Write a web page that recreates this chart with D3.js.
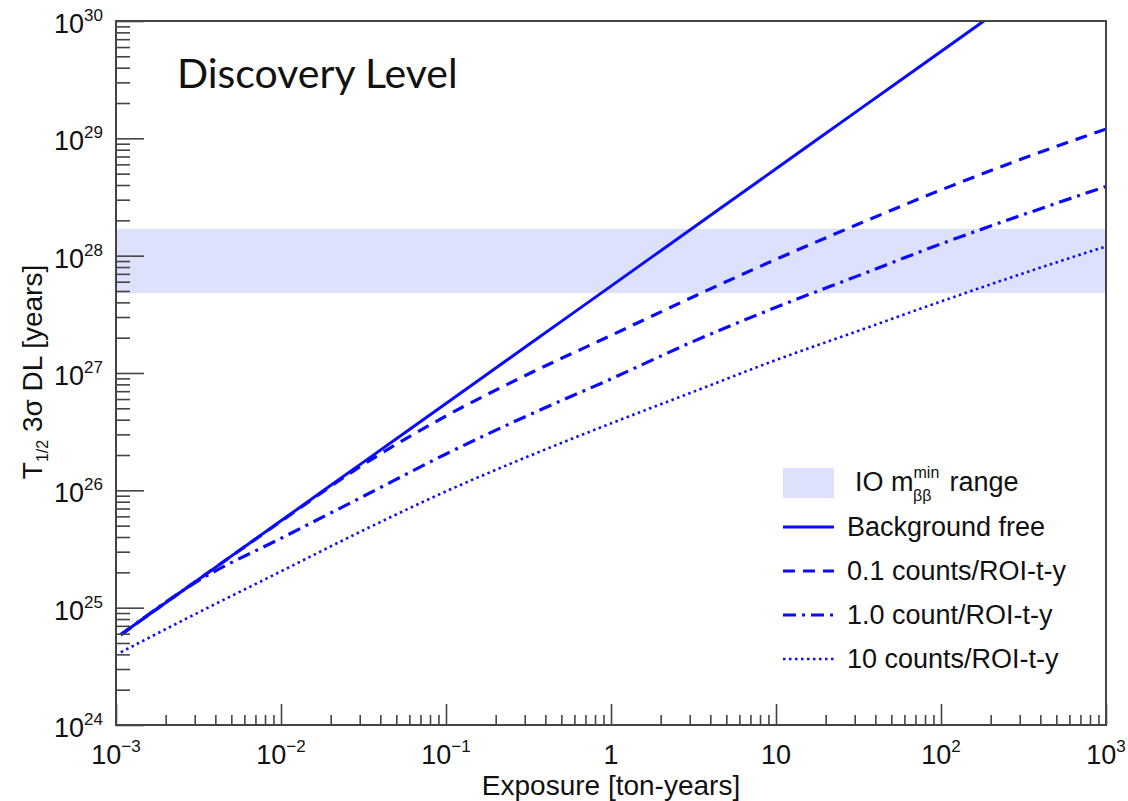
<!DOCTYPE html>
<html><head><meta charset="utf-8">
<script src="https://cdn.jsdelivr.net/npm/d3@7"></script>
<style>body{margin:0;background:#fff} text{font-family:"Liberation Sans",Arial,sans-serif;fill:#111}</style>
</head><body><svg id="c" width="1128" height="801"></svg>
<script>
// ---- data ----
const exposure = [0.00107, 0.00316, 0.01, 0.0316, 0.1, 0.316, 1, 3.16, 10, 31.6, 100, 316, 1000];
const bgFree   = [5.9e24, 1.74e25, 5.5e25, 1.74e26, 5.5e26, 1.74e27, 5.5e27, 1.74e28, 5.5e28, 1.74e29, 5.5e29, 1.74e30, 5.5e30];
const bkg01    = [5.9e24, 1.74e25, 5.45e25, 1.66e26, 4.3e26, 9.8e26, 2.09e27, 4.47e27, 9.3e27, 1.86e28, 3.63e28, 6.76e28, 1.2e29];
const bkg1     = [5.85e24, 1.7e25, 3.9e25, 8.9e25, 2.04e26, 4.37e26, 8.9e26, 1.86e27, 3.63e27, 6.76e27, 1.26e28, 2.24e28, 3.89e28];
const bkg10    = [4.17e24, 9.1e24, 2.04e25, 4.57e25, 9.8e25, 1.95e26, 3.72e26, 6.92e26, 1.29e27, 2.29e27, 4.07e27, 7.08e27, 1.2e28];
const ioBand   = [4.8e27, 1.69e28];
const seriesNames = ["Background free", "0.1 counts/ROI-t-y", "1.0 count/ROI-t-y", "10 counts/ROI-t-y"];
const xTickVals = [1e-3, 1e-2, 1e-1, 1, 10, 1e2, 1e3];
const xTickBase = ["10", "10", "10", "1", "10", "10", "10"];
const xTickExp  = ["−3", "−2", "−1", "", "", "2", "3"];
const yTickVals = [1e24, 1e25, 1e26, 1e27, 1e28, 1e29, 1e30];
const yTickExp  = ["24", "25", "26", "27", "28", "29", "30"];
const titleText = "Discovery Level";
const xTitle = "Exposure [ton-years]";

// ---- layout ----
const L = 116, R = 1106, T = 21, B = 725;
const blue = "#0a0aff";
const svg = d3.select("#c");
const x = d3.scaleLog().domain([1e-3, 1e3]).range([L, R]);
const y = d3.scaleLog().domain([1e24, 1e30]).range([B, T]);

svg.append("defs").append("clipPath").attr("id", "clip")
  .append("rect").attr("x", L).attr("y", T).attr("width", R - L).attr("height", B - T);

// band
svg.append("rect").attr("x", x(1e-3)).attr("width", x(1e3) - x(1e-3))
  .attr("y", y(ioBand[1])).attr("height", y(ioBand[0]) - y(ioBand[1]))
  .attr("fill", "#dde1fb");

// curves
const styles = [
  {vals: bgFree, dash: null, w: 3},
  {vals: bkg01, dash: "12,8", w: 3.2},
  {vals: bkg1, dash: "13,6,3,6", w: 3.2},
  {vals: bkg10, dash: "2.5,3.5", w: 2.6}
];
const line = d3.line().x(d => x(d[0])).y(d => y(d[1])).curve(d3.curveMonotoneX);
const gLines = svg.append("g").attr("clip-path", "url(#clip)");
styles.forEach(s => {
  gLines.append("path").datum(exposure.map((e, i) => [e, s.vals[i]]))
    .attr("d", line).attr("fill", "none").attr("stroke", blue)
    .attr("stroke-width", s.w).attr("stroke-dasharray", s.dash);
});

// axes
const isMajor = v => Math.abs(Math.log10(v) - Math.round(Math.log10(v))) < 1e-9;
const gy = svg.append("g").attr("transform", `translate(${L},0)`)
  .call(d3.axisLeft(y).tickValues(y.ticks()).tickSize(-14).tickFormat(() => ""));
gy.select(".domain").remove();
gy.selectAll(".tick line").attr("x2", d => isMajor(d) ? 28 : 14).attr("stroke", "#444").attr("stroke-width", 1.6);
const gx = svg.append("g").attr("transform", `translate(0,${B})`)
  .call(d3.axisBottom(x).tickValues(x.ticks()).tickSize(-10).tickFormat(() => ""));
gx.select(".domain").remove();
gx.selectAll(".tick line").attr("y2", d => isMajor(d) ? -21 : -10).attr("stroke", "#444").attr("stroke-width", 1.6);

// frame
svg.append("rect").attr("x", L).attr("y", T).attr("width", R - L).attr("height", B - T)
  .attr("fill", "none").attr("stroke", "#444").attr("stroke-width", 2);

// y tick labels
yTickVals.forEach((v, i) => {
  const t = svg.append("text").attr("x", 103).attr("y", y(v) + 12).attr("text-anchor", "end");
  t.append("tspan").attr("font-size", 27).text("10");
  t.append("tspan").attr("font-size", 17).attr("dy", -12).text(yTickExp[i]);
});
// x tick labels
xTickVals.forEach((v, i) => {
  const t = svg.append("text").attr("x", x(v)).attr("y", 764).attr("text-anchor", "middle");
  t.append("tspan").attr("font-size", 27).text(xTickBase[i]);
  if (xTickExp[i]) t.append("tspan").attr("font-size", 17).attr("dy", -12).text(xTickExp[i]);
});

// axis titles
svg.append("text").attr("x", (L + R) / 2).attr("y", 795).attr("text-anchor", "middle")
  .attr("font-size", 28).text(xTitle);
const yt = svg.append("text").attr("transform", "translate(42,372) rotate(-90)").attr("text-anchor", "middle").attr("font-size", 28);
yt.append("tspan").text("T");
yt.append("tspan").attr("font-size", 16).attr("dy", 6).text("1/2");
yt.append("tspan").attr("dy", -6).text(" 3σ DL [years]");

// title
svg.append("text").attr("x", 177).attr("y", 88).attr("font-size", 41)
  .style("font-family", "Lato, 'Open Sans', sans-serif").text(titleText);

// legend
const lx0 = 783, lx1 = 834, tx = 847;
svg.append("rect").attr("x", lx0).attr("y", 468).attr("width", lx1 - lx0).attr("height", 30).attr("fill", "#dde1fb");
const lt = svg.append("text").attr("x", 855).attr("y", 491).attr("font-size", 27);
lt.append("tspan").text("IO m");
lt.append("tspan").attr("font-size", 16).attr("dy", -13).text("min");
lt.append("tspan").attr("x", 913).attr("dy", 23).attr("font-size", 16).text("ββ");
lt.append("tspan").attr("x", 942).attr("dy", -10).text(" range");
styles.forEach((s, i) => {
  const base = 536 + i * 44;
  svg.append("line").attr("x1", lx0).attr("x2", lx1).attr("y1", base - 9).attr("y2", base - 9)
    .attr("stroke", blue).attr("stroke-width", s.w).attr("stroke-dasharray", s.dash);
  svg.append("text").attr("x", tx).attr("y", base).attr("font-size", 27).text(seriesNames[i]);
});
</script></body></html>
